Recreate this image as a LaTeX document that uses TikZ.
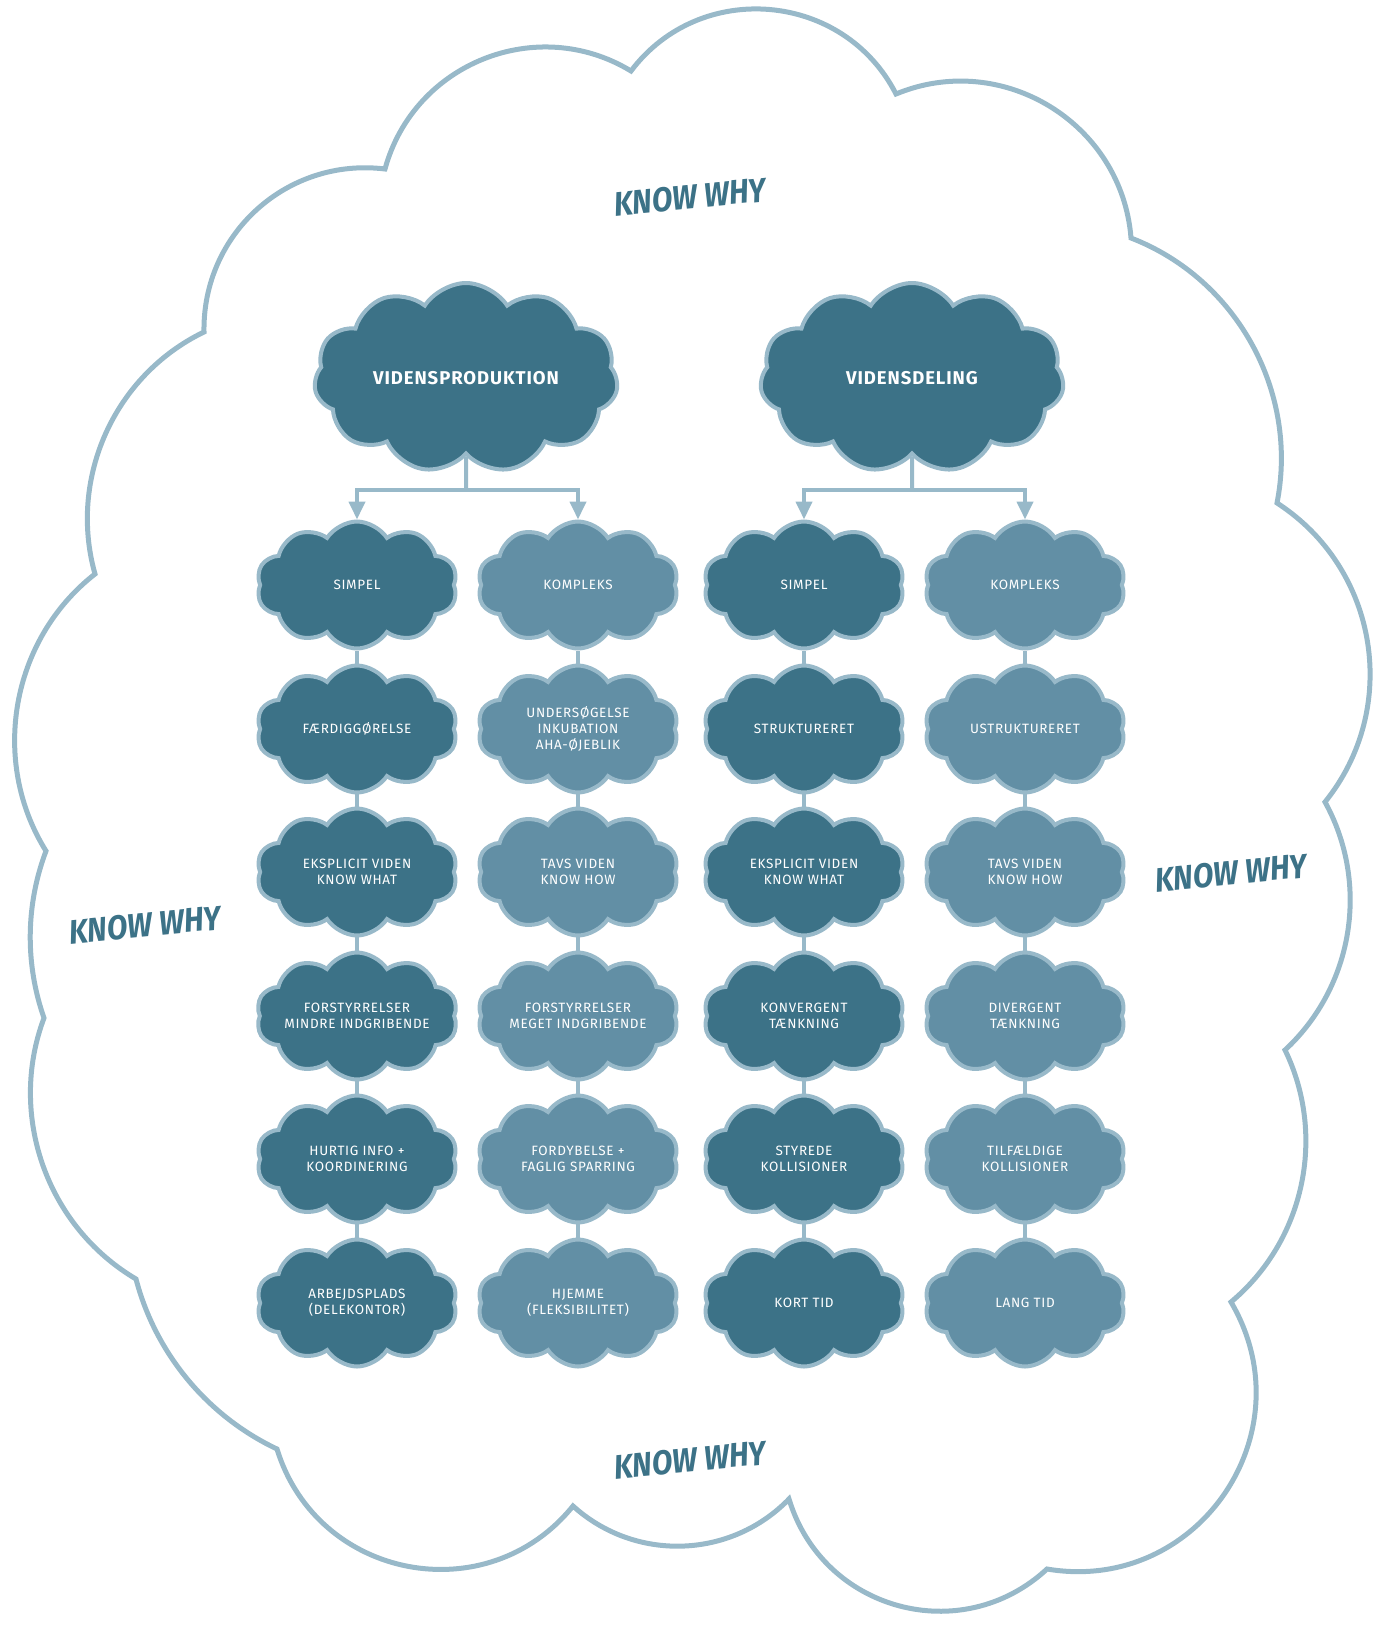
\documentclass[tikz,border=0pt]{standalone}
\usepackage{fontspec}
\setmainfont{Fira Sans}
\newfontfamily\cloudfont[LetterSpace=5]{Fira Sans}
\newfontfamily\whyfont[FakeStretch=0.88]{Fira Sans}
\usetikzlibrary{shapes.symbols, arrows.meta, backgrounds}
\definecolor{cloudline}{RGB}{152, 185, 201}
\definecolor{darkteal}{RGB}{60, 114, 135}
\definecolor{lightteal}{RGB}{98, 143, 165}

\begin{document}
\begin{tikzpicture}[x=1pt, y=1pt,
  smallcloud/.style={cloud, cloud puffs=10, cloud puff arc=115, cloud ignores aspect, minimum width=201pt, minimum height=127pt, inner sep=0pt, draw=cloudline, line width=4pt, text=white, align=center, font=\cloudfont\fontsize{13.5}{16}\selectfont},
  darkcloud/.style={smallcloud, fill=darkteal},
  lightcloud/.style={smallcloud, fill=lightteal},
  bigcloud/.style={cloud, cloud puffs=11, cloud puff arc=115, cloud ignores aspect, minimum width=304pt, minimum height=190pt, inner sep=0pt, draw=cloudline, line width=4pt, fill=darkteal, text=white, font=\cloudfont\fontsize{18.5}{20}\selectfont\bfseries},
  link/.style={draw=cloudline, line width=4pt},
  arrowlink/.style={link, -{Triangle[width=16pt, length=18pt]}},
  why/.style={text=darkteal, rotate=5.5, font=\whyfont\fontsize{34}{34}\selectfont\bfseries\itshape}
]
  \useasboundingbox (0,0) rectangle (1381,-1627);

  % Outer cloud
  \draw[cloudline, line width=5pt, line join=miter]
    (631,-71) to[bend left=58, looseness=1.11] (896,-94)
    to[bend left=54, looseness=1.07] (1131,-238)
    to[bend left=40, looseness=0.96] (1277,-503)
    to[bend left=48, looseness=1.02] (1325,-802)
    to[bend left=38, looseness=0.95] (1285,-1050)
    to[bend left=38, looseness=0.95] (1231,-1302)
    to[bend left=65, looseness=1.2] (1047,-1569)
    to[bend left=58, looseness=1.12] (789,-1499)
    to[bend left=44, looseness=0.99] (573,-1506)
    to[bend left=62, looseness=1.16] (277,-1449)
    to[bend left=25, looseness=0.89] (136,-1279)
    to[bend left=40, looseness=0.96] (44,-1018)
    to[bend left=20, looseness=0.88] (46,-851)
    to[bend left=42, looseness=0.97] (95,-574)
    to[bend left=40, looseness=0.96] (204,-332)
    to[bend left=49, looseness=1.03] (385,-169)
    to[bend left=53, looseness=1.06] (631,-71) -- cycle;

  % Know why
  \node[why] (whytop) at (690,-197) {KNOW WHY};
  \node[why] (whyleft) at (145,-925) {KNOW WHY};
  \node[why] (whyright) at (1231,-873) {KNOW WHY};
  \node[why] (whybottom) at (690,-1460) {KNOW WHY};

  % Main clouds
  \node[bigcloud] (vp) at (466,-378) {VIDENSPRODUKTION};
  \node[bigcloud] (vd) at (912,-378) {VIDENSDELING};

  % Vidensproduktion
  \node[darkcloud] (p1) at (357,-585) {SIMPEL};
  \node[darkcloud] (p2) at (357,-729) {FÆRDIGGØRELSE};
  \node[darkcloud] (p3) at (357,-872) {EKSPLICIT VIDEN\\KNOW WHAT};
  \node[darkcloud] (p4) at (357,-1016) {FORSTYRRELSER\\MINDRE INDGRIBENDE};
  \node[darkcloud] (p5) at (357,-1159) {HURTIG INFO +\\KOORDINERING};
  \node[darkcloud] (p6) at (357,-1303) {ARBEJDSPLADS\\(DELEKONTOR)};

  \node[lightcloud] (q1) at (578,-585) {KOMPLEKS};
  \node[lightcloud] (q2) at (578,-729) {UNDERSØGELSE\\INKUBATION\\AHA-ØJEBLIK};
  \node[lightcloud] (q3) at (578,-872) {TAVS VIDEN\\KNOW HOW};
  \node[lightcloud] (q4) at (578,-1016) {FORSTYRRELSER\\MEGET INDGRIBENDE};
  \node[lightcloud] (q5) at (578,-1159) {FORDYBELSE +\\FAGLIG SPARRING};
  \node[lightcloud] (q6) at (578,-1303) {HJEMME\\(FLEKSIBILITET)};

  % Vidensdeling
  \node[darkcloud] (r1) at (804,-585) {SIMPEL};
  \node[darkcloud] (r2) at (804,-729) {STRUKTURERET};
  \node[darkcloud] (r3) at (804,-872) {EKSPLICIT VIDEN\\KNOW WHAT};
  \node[darkcloud] (r4) at (804,-1016) {KONVERGENT\\TÆNKNING};
  \node[darkcloud] (r5) at (804,-1159) {STYREDE\\KOLLISIONER};
  \node[darkcloud] (r6) at (804,-1303) {KORT TID};

  \node[lightcloud] (s1) at (1025,-585) {KOMPLEKS};
  \node[lightcloud] (s2) at (1025,-729) {USTRUKTURERET};
  \node[lightcloud] (s3) at (1025,-872) {TAVS VIDEN\\KNOW HOW};
  \node[lightcloud] (s4) at (1025,-1016) {DIVERGENT\\TÆNKNING};
  \node[lightcloud] (s5) at (1025,-1159) {TILFÆLDIGE\\KOLLISIONER};
  \node[lightcloud] (s6) at (1025,-1303) {LANG TID};

  % Connectors
  \coordinate (vpfork) at (466,-490);
  \coordinate (vdfork) at (912,-490);
  \begin{scope}[on background layer]
    \draw[link] (vp.south) -- (vpfork);
    \draw[arrowlink] (vpfork) -| (p1.north);
    \draw[arrowlink] (vpfork) -| (q1.north);
    \draw[link] (vd.south) -- (vdfork);
    \draw[arrowlink] (vdfork) -| (r1.north);
    \draw[arrowlink] (vdfork) -| (s1.north);
    \draw[link] (p1) -- (p6);
    \draw[link] (q1) -- (q6);
    \draw[link] (r1) -- (r6);
    \draw[link] (s1) -- (s6);
  \end{scope}
\end{tikzpicture}
\end{document}
